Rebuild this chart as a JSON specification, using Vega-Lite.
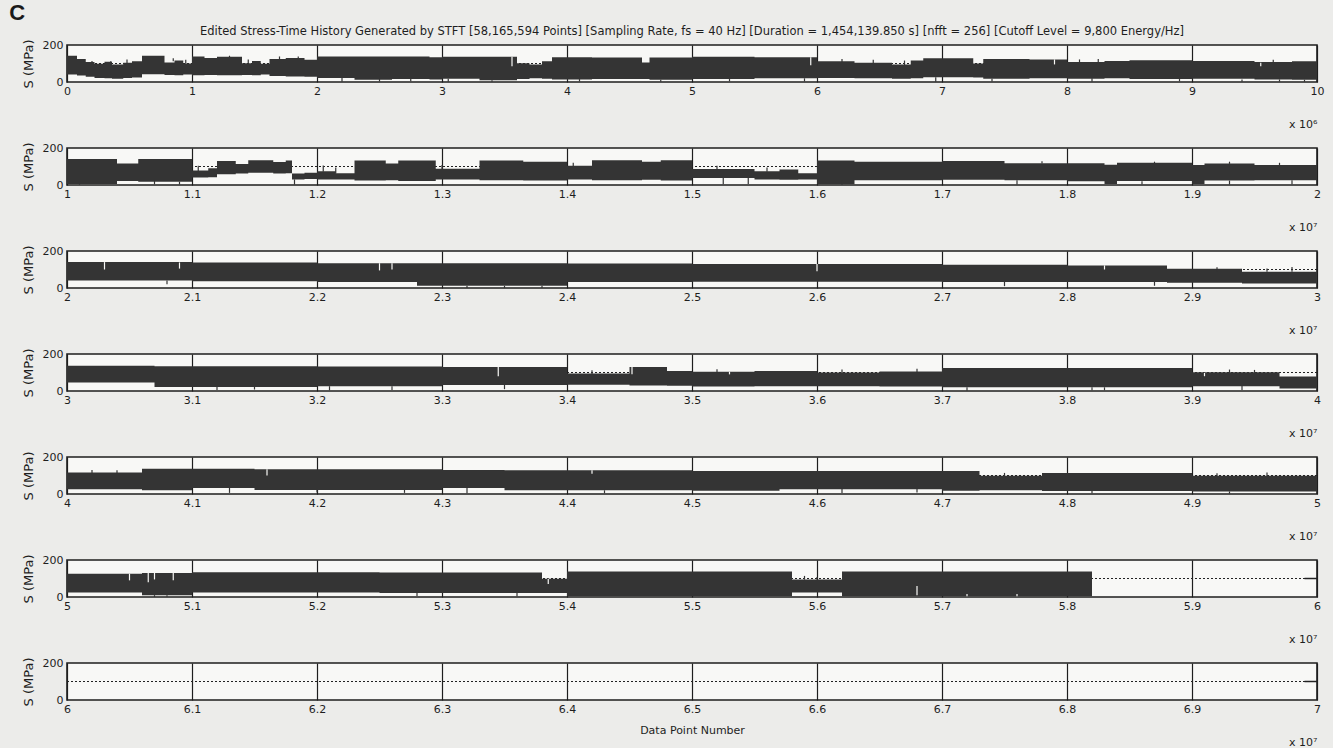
{
  "$schema": "https://vega.github.io/schema/vega-lite/v6.json",
  "background": "#ececea",
  "padding": {"left": 9, "top": 1, "right": 8, "bottom": 0},
  "title": {"text": "C", "anchor": "start", "fontSize": 22, "fontWeight": "bold", "font": "Liberation Sans", "color": "#1a1a1a", "offset": 0, "dx": -12},
  "bounds": "flush",
  "spacing": 66,
  "datasets": {
    "level": [
      {"p": 1, "x": 0, "s": 100}, {"p": 1, "x": 10000000, "s": 100},
      {"p": 2, "x": 10000000, "s": 100}, {"p": 2, "x": 20000000, "s": 100},
      {"p": 3, "x": 20000000, "s": 100}, {"p": 3, "x": 30000000, "s": 100},
      {"p": 4, "x": 30000000, "s": 100}, {"p": 4, "x": 40000000, "s": 100},
      {"p": 5, "x": 40000000, "s": 100}, {"p": 5, "x": 50000000, "s": 100},
      {"p": 6, "x": 50000000, "s": 100}, {"p": 6, "x": 60000000, "s": 100},
      {"p": 7, "x": 60000000, "s": 100}, {"p": 7, "x": 70000000, "s": 100}
    ],
    "tail": [
      {"p": 6, "x": 59900000, "s": 100}, {"p": 6, "x": 60000000, "s": 100},
      {"p": 7, "x": 69900000, "s": 100}, {"p": 7, "x": 70000000, "s": 100}
    ],
    "spk": [
      {"p": 1, "x": 2200000, "a": 2, "b": 22, "k": "d"},
      {"p": 1, "x": 2500000, "a": 3, "b": 16, "k": "d"},
      {"p": 1, "x": 2750000, "a": 4, "b": 16, "k": "d"},
      {"p": 1, "x": 3050000, "a": 2, "b": 18, "k": "d"},
      {"p": 1, "x": 3400000, "a": 2, "b": 10, "k": "d"},
      {"p": 1, "x": 4100000, "a": 3, "b": 16, "k": "d"},
      {"p": 1, "x": 4750000, "a": 2, "b": 12, "k": "d"},
      {"p": 1, "x": 5300000, "a": 4, "b": 16, "k": "d"},
      {"p": 1, "x": 5900000, "a": 3, "b": 20, "k": "d"},
      {"p": 1, "x": 6950000, "a": 2, "b": 26, "k": "d"},
      {"p": 1, "x": 7400000, "a": 3, "b": 18, "k": "d"},
      {"p": 1, "x": 8200000, "a": 2, "b": 20, "k": "d"},
      {"p": 1, "x": 8900000, "a": 4, "b": 16, "k": "d"},
      {"p": 1, "x": 9400000, "a": 2, "b": 14, "k": "d"},
      {"p": 1, "x": 9700000, "a": 2, "b": 14, "k": "d"},
      {"p": 1, "x": 9900000, "a": 1, "b": 12, "k": "d"},
      {"p": 1, "x": 200000, "a": 96, "b": 114, "k": "d"},
      {"p": 1, "x": 350000, "a": 92, "b": 112, "k": "d"},
      {"p": 1, "x": 480000, "a": 102, "b": 122, "k": "d"},
      {"p": 1, "x": 850000, "a": 112, "b": 128, "k": "d"},
      {"p": 1, "x": 950000, "a": 98, "b": 120, "k": "d"},
      {"p": 1, "x": 1300000, "a": 130, "b": 142, "k": "d"},
      {"p": 1, "x": 1450000, "a": 100, "b": 122, "k": "d"},
      {"p": 1, "x": 1700000, "a": 124, "b": 138, "k": "d"},
      {"p": 1, "x": 1850000, "a": 120, "b": 138, "k": "d"},
      {"p": 1, "x": 6200000, "a": 108, "b": 124, "k": "d"},
      {"p": 1, "x": 6450000, "a": 100, "b": 120, "k": "d"},
      {"p": 1, "x": 6700000, "a": 92, "b": 116, "k": "d"},
      {"p": 1, "x": 8100000, "a": 104, "b": 122, "k": "d"},
      {"p": 1, "x": 8250000, "a": 104, "b": 124, "k": "d"},
      {"p": 1, "x": 9650000, "a": 104, "b": 120, "k": "d"},
      {"p": 1, "x": 3560000, "a": 85, "b": 136, "k": "l"},
      {"p": 1, "x": 5950000, "a": 90, "b": 134, "k": "l"},
      {"p": 1, "x": 7900000, "a": 95, "b": 122, "k": "l"},
      {"p": 1, "x": 9550000, "a": 85, "b": 104, "k": "l"},

      {"p": 2, "x": 10100000, "a": 2, "b": 6, "k": "d"},
      {"p": 2, "x": 10700000, "a": 4, "b": 22, "k": "d"},
      {"p": 2, "x": 10900000, "a": 3, "b": 18, "k": "d"},
      {"p": 2, "x": 11820000, "a": 2, "b": 30, "k": "d"},
      {"p": 2, "x": 15250000, "a": 4, "b": 38, "k": "d"},
      {"p": 2, "x": 15450000, "a": 6, "b": 38, "k": "d"},
      {"p": 2, "x": 16200000, "a": 2, "b": 26, "k": "d"},
      {"p": 2, "x": 17600000, "a": 3, "b": 26, "k": "d"},
      {"p": 2, "x": 18600000, "a": 4, "b": 20, "k": "d"},
      {"p": 2, "x": 19300000, "a": 3, "b": 24, "k": "d"},
      {"p": 2, "x": 19800000, "a": 4, "b": 26, "k": "d"},
      {"p": 2, "x": 11050000, "a": 76, "b": 104, "k": "d"},
      {"p": 2, "x": 12050000, "a": 72, "b": 106, "k": "d"},
      {"p": 2, "x": 12150000, "a": 62, "b": 94, "k": "d"},
      {"p": 2, "x": 13000000, "a": 86, "b": 108, "k": "d"},
      {"p": 2, "x": 14050000, "a": 102, "b": 120, "k": "d"},
      {"p": 2, "x": 15200000, "a": 84, "b": 104, "k": "d"},
      {"p": 2, "x": 15600000, "a": 72, "b": 94, "k": "d"},
      {"p": 2, "x": 17800000, "a": 116, "b": 128, "k": "d"},
      {"p": 2, "x": 18700000, "a": 116, "b": 126, "k": "d"},
      {"p": 2, "x": 19300000, "a": 114, "b": 126, "k": "d"},
      {"p": 2, "x": 19700000, "a": 108, "b": 120, "k": "d"},

      {"p": 3, "x": 20800000, "a": 20, "b": 40, "k": "d"},
      {"p": 3, "x": 23200000, "a": 0, "b": 12, "k": "d"},
      {"p": 3, "x": 23500000, "a": 0, "b": 12, "k": "d"},
      {"p": 3, "x": 23800000, "a": 0, "b": 12, "k": "d"},
      {"p": 3, "x": 27500000, "a": 10, "b": 34, "k": "d"},
      {"p": 3, "x": 28700000, "a": 12, "b": 34, "k": "d"},
      {"p": 3, "x": 29200000, "a": 88, "b": 112, "k": "d"},
      {"p": 3, "x": 29600000, "a": 88, "b": 106, "k": "d"},
      {"p": 3, "x": 29800000, "a": 88, "b": 114, "k": "d"},
      {"p": 3, "x": 20300000, "a": 100, "b": 140, "k": "l"},
      {"p": 3, "x": 20900000, "a": 105, "b": 138, "k": "l"},
      {"p": 3, "x": 22500000, "a": 95, "b": 134, "k": "l"},
      {"p": 3, "x": 22600000, "a": 100, "b": 134, "k": "l"},
      {"p": 3, "x": 26000000, "a": 90, "b": 130, "k": "l"},
      {"p": 3, "x": 28300000, "a": 100, "b": 122, "k": "l"},

      {"p": 4, "x": 31200000, "a": 6, "b": 22, "k": "d"},
      {"p": 4, "x": 31500000, "a": 8, "b": 22, "k": "d"},
      {"p": 4, "x": 32100000, "a": 4, "b": 26, "k": "d"},
      {"p": 4, "x": 32600000, "a": 6, "b": 26, "k": "d"},
      {"p": 4, "x": 33500000, "a": 10, "b": 34, "k": "d"},
      {"p": 4, "x": 37200000, "a": 2, "b": 20, "k": "d"},
      {"p": 4, "x": 38200000, "a": 4, "b": 20, "k": "d"},
      {"p": 4, "x": 38300000, "a": 4, "b": 20, "k": "d"},
      {"p": 4, "x": 39400000, "a": 6, "b": 28, "k": "d"},
      {"p": 4, "x": 34200000, "a": 92, "b": 112, "k": "d"},
      {"p": 4, "x": 35200000, "a": 100, "b": 118, "k": "d"},
      {"p": 4, "x": 36200000, "a": 96, "b": 116, "k": "d"},
      {"p": 4, "x": 36800000, "a": 102, "b": 120, "k": "d"},
      {"p": 4, "x": 39300000, "a": 98, "b": 116, "k": "d"},
      {"p": 4, "x": 39500000, "a": 98, "b": 114, "k": "d"},
      {"p": 4, "x": 33450000, "a": 80, "b": 130, "k": "l"},
      {"p": 4, "x": 34520000, "a": 90, "b": 130, "k": "l"},
      {"p": 4, "x": 35300000, "a": 90, "b": 104, "k": "l"},
      {"p": 4, "x": 39100000, "a": 80, "b": 98, "k": "l"},

      {"p": 5, "x": 41300000, "a": 6, "b": 34, "k": "d"},
      {"p": 5, "x": 42000000, "a": 8, "b": 22, "k": "d"},
      {"p": 5, "x": 42700000, "a": 6, "b": 22, "k": "d"},
      {"p": 5, "x": 43200000, "a": 4, "b": 34, "k": "d"},
      {"p": 5, "x": 44300000, "a": 4, "b": 20, "k": "d"},
      {"p": 5, "x": 46200000, "a": 6, "b": 28, "k": "d"},
      {"p": 5, "x": 46800000, "a": 8, "b": 28, "k": "d"},
      {"p": 5, "x": 48200000, "a": 4, "b": 16, "k": "d"},
      {"p": 5, "x": 49300000, "a": 2, "b": 14, "k": "d"},
      {"p": 5, "x": 40200000, "a": 112, "b": 130, "k": "d"},
      {"p": 5, "x": 40400000, "a": 112, "b": 128, "k": "d"},
      {"p": 5, "x": 47500000, "a": 96, "b": 114, "k": "d"},
      {"p": 5, "x": 49200000, "a": 96, "b": 112, "k": "d"},
      {"p": 5, "x": 49600000, "a": 96, "b": 116, "k": "d"},
      {"p": 5, "x": 41600000, "a": 100, "b": 134, "k": "l"},
      {"p": 5, "x": 44200000, "a": 110, "b": 128, "k": "l"},

      {"p": 6, "x": 50700000, "a": 0, "b": 10, "k": "d"},
      {"p": 6, "x": 50800000, "a": 2, "b": 10, "k": "d"},
      {"p": 6, "x": 52800000, "a": 6, "b": 24, "k": "d"},
      {"p": 6, "x": 53600000, "a": 4, "b": 22, "k": "d"},
      {"p": 6, "x": 55900000, "a": 94, "b": 114, "k": "d"},
      {"p": 6, "x": 56000000, "a": 94, "b": 108, "k": "d"},
      {"p": 6, "x": 50500000, "a": 90, "b": 126, "k": "l"},
      {"p": 6, "x": 50650000, "a": 80, "b": 130, "k": "l"},
      {"p": 6, "x": 50700000, "a": 95, "b": 130, "k": "l"},
      {"p": 6, "x": 50850000, "a": 90, "b": 130, "k": "l"},
      {"p": 6, "x": 53850000, "a": 70, "b": 98, "k": "l"},
      {"p": 6, "x": 56800000, "a": 10, "b": 60, "k": "l"},
      {"p": 6, "x": 57200000, "a": 4, "b": 16, "k": "l"},
      {"p": 6, "x": 57600000, "a": 4, "b": 16, "k": "l"}
    ],
    "band": [
      {"p": 1, "x": 0, "hi": 142, "lo": 40},
      {"p": 1, "x": 80000, "hi": 124, "lo": 35},
      {"p": 1, "x": 150000, "hi": 108, "lo": 28},
      {"p": 1, "x": 220000, "hi": 98, "lo": 22},
      {"p": 1, "x": 300000, "hi": 110, "lo": 20},
      {"p": 1, "x": 360000, "hi": 94, "lo": 18},
      {"p": 1, "x": 450000, "hi": 104, "lo": 22},
      {"p": 1, "x": 520000, "hi": 112, "lo": 24},
      {"p": 1, "x": 600000, "hi": 142, "lo": 42},
      {"p": 1, "x": 780000, "hi": 106, "lo": 38},
      {"p": 1, "x": 860000, "hi": 116, "lo": 36},
      {"p": 1, "x": 930000, "hi": 100, "lo": 40},
      {"p": 1, "x": 1000000, "hi": 138, "lo": 36},
      {"p": 1, "x": 1100000, "hi": 130, "lo": 38},
      {"p": 1, "x": 1200000, "hi": 136, "lo": 36},
      {"p": 1, "x": 1400000, "hi": 102, "lo": 38},
      {"p": 1, "x": 1480000, "hi": 114, "lo": 36},
      {"p": 1, "x": 1550000, "hi": 98, "lo": 40},
      {"p": 1, "x": 1620000, "hi": 124, "lo": 32},
      {"p": 1, "x": 1750000, "hi": 130, "lo": 30},
      {"p": 1, "x": 1900000, "hi": 120, "lo": 28},
      {"p": 1, "x": 2000000, "hi": 138, "lo": 22},
      {"p": 1, "x": 2300000, "hi": 138, "lo": 12},
      {"p": 1, "x": 2600000, "hi": 138, "lo": 16},
      {"p": 1, "x": 2900000, "hi": 134, "lo": 14},
      {"p": 1, "x": 3000000, "hi": 136, "lo": 18},
      {"p": 1, "x": 3300000, "hi": 136, "lo": 10},
      {"p": 1, "x": 3600000, "hi": 102, "lo": 16},
      {"p": 1, "x": 3700000, "hi": 94, "lo": 20},
      {"p": 1, "x": 3800000, "hi": 112, "lo": 18},
      {"p": 1, "x": 3880000, "hi": 134, "lo": 14},
      {"p": 1, "x": 4200000, "hi": 132, "lo": 16},
      {"p": 1, "x": 4600000, "hi": 106, "lo": 16},
      {"p": 1, "x": 4660000, "hi": 132, "lo": 12},
      {"p": 1, "x": 5000000, "hi": 136, "lo": 16},
      {"p": 1, "x": 5500000, "hi": 134, "lo": 20},
      {"p": 1, "x": 6000000, "hi": 112, "lo": 22},
      {"p": 1, "x": 6300000, "hi": 104, "lo": 20},
      {"p": 1, "x": 6600000, "hi": 94, "lo": 18},
      {"p": 1, "x": 6750000, "hi": 116, "lo": 20},
      {"p": 1, "x": 6850000, "hi": 128, "lo": 26},
      {"p": 1, "x": 7250000, "hi": 100, "lo": 24},
      {"p": 1, "x": 7330000, "hi": 124, "lo": 18},
      {"p": 1, "x": 7700000, "hi": 122, "lo": 20},
      {"p": 1, "x": 8000000, "hi": 108, "lo": 18},
      {"p": 1, "x": 8300000, "hi": 114, "lo": 20},
      {"p": 1, "x": 8500000, "hi": 118, "lo": 16},
      {"p": 1, "x": 9000000, "hi": 114, "lo": 18},
      {"p": 1, "x": 9500000, "hi": 108, "lo": 14},
      {"p": 1, "x": 9800000, "hi": 112, "lo": 12},
      {"p": 1, "x": 10000000, "hi": 112, "lo": 12},

      {"p": 2, "x": 10000000, "hi": 141, "lo": 6},
      {"p": 2, "x": 10400000, "hi": 116, "lo": 22},
      {"p": 2, "x": 10570000, "hi": 140, "lo": 18},
      {"p": 2, "x": 11000000, "hi": 78, "lo": 40},
      {"p": 2, "x": 11130000, "hi": 90, "lo": 42},
      {"p": 2, "x": 11200000, "hi": 130, "lo": 58},
      {"p": 2, "x": 11350000, "hi": 114, "lo": 62},
      {"p": 2, "x": 11450000, "hi": 134, "lo": 66},
      {"p": 2, "x": 11650000, "hi": 124, "lo": 62},
      {"p": 2, "x": 11750000, "hi": 132, "lo": 64},
      {"p": 2, "x": 11800000, "hi": 62, "lo": 30},
      {"p": 2, "x": 11900000, "hi": 66, "lo": 32},
      {"p": 2, "x": 12000000, "hi": 74, "lo": 30},
      {"p": 2, "x": 12150000, "hi": 64, "lo": 30},
      {"p": 2, "x": 12300000, "hi": 132, "lo": 24},
      {"p": 2, "x": 12550000, "hi": 116, "lo": 26},
      {"p": 2, "x": 12650000, "hi": 132, "lo": 22},
      {"p": 2, "x": 12950000, "hi": 88, "lo": 30},
      {"p": 2, "x": 13300000, "hi": 132, "lo": 26},
      {"p": 2, "x": 13650000, "hi": 126, "lo": 24},
      {"p": 2, "x": 14000000, "hi": 104, "lo": 30},
      {"p": 2, "x": 14200000, "hi": 134, "lo": 26},
      {"p": 2, "x": 14600000, "hi": 126, "lo": 28},
      {"p": 2, "x": 14750000, "hi": 134, "lo": 24},
      {"p": 2, "x": 15000000, "hi": 86, "lo": 38},
      {"p": 2, "x": 15500000, "hi": 74, "lo": 30},
      {"p": 2, "x": 15700000, "hi": 84, "lo": 28},
      {"p": 2, "x": 15850000, "hi": 64, "lo": 30},
      {"p": 2, "x": 16000000, "hi": 132, "lo": 4},
      {"p": 2, "x": 16300000, "hi": 126, "lo": 26},
      {"p": 2, "x": 17000000, "hi": 130, "lo": 28},
      {"p": 2, "x": 17500000, "hi": 118, "lo": 26},
      {"p": 2, "x": 18000000, "hi": 118, "lo": 20},
      {"p": 2, "x": 18300000, "hi": 110, "lo": 6},
      {"p": 2, "x": 18400000, "hi": 120, "lo": 22},
      {"p": 2, "x": 19000000, "hi": 108, "lo": 6},
      {"p": 2, "x": 19100000, "hi": 116, "lo": 24},
      {"p": 2, "x": 19500000, "hi": 108, "lo": 26},
      {"p": 2, "x": 20000000, "hi": 108, "lo": 26},

      {"p": 3, "x": 20000000, "hi": 140, "lo": 40},
      {"p": 3, "x": 21000000, "hi": 138, "lo": 36},
      {"p": 3, "x": 22000000, "hi": 134, "lo": 32},
      {"p": 3, "x": 22800000, "hi": 134, "lo": 12},
      {"p": 3, "x": 24000000, "hi": 132, "lo": 32},
      {"p": 3, "x": 25000000, "hi": 130, "lo": 34},
      {"p": 3, "x": 26000000, "hi": 130, "lo": 34},
      {"p": 3, "x": 27000000, "hi": 126, "lo": 32},
      {"p": 3, "x": 28000000, "hi": 122, "lo": 32},
      {"p": 3, "x": 28800000, "hi": 104, "lo": 28},
      {"p": 3, "x": 29400000, "hi": 88, "lo": 24},
      {"p": 3, "x": 30000000, "hi": 88, "lo": 24},

      {"p": 4, "x": 30000000, "hi": 136, "lo": 46},
      {"p": 4, "x": 30700000, "hi": 134, "lo": 22},
      {"p": 4, "x": 32000000, "hi": 132, "lo": 26},
      {"p": 4, "x": 33000000, "hi": 130, "lo": 32},
      {"p": 4, "x": 34000000, "hi": 94, "lo": 34},
      {"p": 4, "x": 34500000, "hi": 130, "lo": 30},
      {"p": 4, "x": 34800000, "hi": 108, "lo": 28},
      {"p": 4, "x": 35000000, "hi": 104, "lo": 24},
      {"p": 4, "x": 35500000, "hi": 108, "lo": 26},
      {"p": 4, "x": 36000000, "hi": 100, "lo": 26},
      {"p": 4, "x": 36500000, "hi": 106, "lo": 24},
      {"p": 4, "x": 37000000, "hi": 124, "lo": 20},
      {"p": 4, "x": 39000000, "hi": 102, "lo": 26},
      {"p": 4, "x": 39700000, "hi": 78, "lo": 14},
      {"p": 4, "x": 40000000, "hi": 78, "lo": 14},

      {"p": 5, "x": 40000000, "hi": 116, "lo": 26},
      {"p": 5, "x": 40600000, "hi": 136, "lo": 20},
      {"p": 5, "x": 41000000, "hi": 136, "lo": 32},
      {"p": 5, "x": 41500000, "hi": 134, "lo": 22},
      {"p": 5, "x": 43000000, "hi": 130, "lo": 32},
      {"p": 5, "x": 43500000, "hi": 128, "lo": 20},
      {"p": 5, "x": 45000000, "hi": 124, "lo": 18},
      {"p": 5, "x": 45700000, "hi": 124, "lo": 26},
      {"p": 5, "x": 47000000, "hi": 124, "lo": 18},
      {"p": 5, "x": 47300000, "hi": 98, "lo": 20},
      {"p": 5, "x": 47800000, "hi": 114, "lo": 16},
      {"p": 5, "x": 49000000, "hi": 98, "lo": 14},
      {"p": 5, "x": 50000000, "hi": 98, "lo": 14},

      {"p": 6, "x": 50000000, "hi": 126, "lo": 24},
      {"p": 6, "x": 50600000, "hi": 130, "lo": 10},
      {"p": 6, "x": 51000000, "hi": 134, "lo": 24},
      {"p": 6, "x": 52500000, "hi": 132, "lo": 22},
      {"p": 6, "x": 53800000, "hi": 98, "lo": 22},
      {"p": 6, "x": 54000000, "hi": 138, "lo": 4},
      {"p": 6, "x": 55800000, "hi": 94, "lo": 24},
      {"p": 6, "x": 56200000, "hi": 138, "lo": 4},
      {"p": 6, "x": 58200000, "hi": 138, "lo": 4}
    ]
  },
  "config": {
    "font": "DejaVu Sans",
    "view": {"stroke": "#1e1e1e", "strokeWidth": 1.6, "fill": "#f8f8f6"},
    "axis": {"labelFont": "DejaVu Sans", "labelFontSize": 11, "labelColor": "#1e1e1e", "titleFont": "DejaVu Sans", "titleFontSize": 11, "titleFontWeight": "normal", "titleColor": "#1e1e1e"},
    "axisX": {"grid": true, "gridColor": "#1e1e1e", "gridWidth": 1.2, "gridOpacity": 1, "ticks": false, "domain": false, "labelFlush": false, "labelPadding": 3, "tickCount": 10, "titleAnchor": "end", "titleY": 36, "titleBaseline": "top"},
    "axisY": {"grid": false, "ticks": false, "domain": false, "values": [0, 100, 200], "labelPadding": 4, "titlePadding": 7, "titleFontSize": 13}
  },
  "vconcat": [
    {
      "width": 1250, "height": 37,
      "title": {"text": "Edited Stress-Time History Generated by STFT [58,165,594 Points] [Sampling Rate, fs = 40 Hz] [Duration = 1,454,139.850 s] [nfft = 256] [Cutoff Level = 9,800 Energy/Hz]", "fontSize": 11.5, "fontWeight": "normal", "frame": "group", "anchor": "middle", "offset": 2, "color": "#1e1e1e"},
      "layer": [
        {"data": {"name": "level"}, "transform": [{"filter": "datum.p == 1"}], "mark": {"type": "line", "color": "#222", "strokeWidth": 1, "strokeDash": [2, 2]},
         "encoding": {"x": {"field": "x", "type": "quantitative", "scale": {"domain": [0, 10000000], "nice": false, "zero": false}, "axis": {"labelExpr": "format(datum.value / 1000000, '.2~f')", "title": "x 10⁶"}},
                      "y": {"field": "s", "type": "quantitative", "scale": {"domain": [0, 200]}, "axis": {"title": "S (MPa)"}}}},
        {"data": {"name": "band"}, "transform": [{"filter": "datum.p == 1"}], "mark": {"type": "area", "interpolate": "step-after", "color": "#343434"},
         "encoding": {"x": {"field": "x", "type": "quantitative"}, "y": {"field": "hi", "type": "quantitative"}, "y2": {"field": "lo"}}},
        {"data": {"name": "spk"}, "transform": [{"filter": "datum.p == 1"}], "mark": {"type": "rule", "strokeWidth": 1.2},
         "encoding": {"x": {"field": "x", "type": "quantitative"}, "y": {"field": "a", "type": "quantitative"}, "y2": {"field": "b"}, "color": {"field": "k", "type": "nominal", "scale": {"domain": ["d", "l"], "range": ["#343434", "#f8f8f6"]}, "legend": null}}}
      ]
    },
    {
      "width": 1250, "height": 37,
      "layer": [
        {"data": {"name": "level"}, "transform": [{"filter": "datum.p == 2"}], "mark": {"type": "line", "color": "#222", "strokeWidth": 1, "strokeDash": [2, 2]},
         "encoding": {"x": {"field": "x", "type": "quantitative", "scale": {"domain": [10000000, 20000000], "nice": false, "zero": false}, "axis": {"labelExpr": "format(datum.value / 10000000, '.2~f')", "title": "x 10⁷"}},
                      "y": {"field": "s", "type": "quantitative", "scale": {"domain": [0, 200]}, "axis": {"title": "S (MPa)"}}}},
        {"data": {"name": "band"}, "transform": [{"filter": "datum.p == 2"}], "mark": {"type": "area", "interpolate": "step-after", "color": "#343434"},
         "encoding": {"x": {"field": "x", "type": "quantitative"}, "y": {"field": "hi", "type": "quantitative"}, "y2": {"field": "lo"}}},
        {"data": {"name": "spk"}, "transform": [{"filter": "datum.p == 2"}], "mark": {"type": "rule", "strokeWidth": 1.2},
         "encoding": {"x": {"field": "x", "type": "quantitative"}, "y": {"field": "a", "type": "quantitative"}, "y2": {"field": "b"}, "color": {"field": "k", "type": "nominal", "scale": {"domain": ["d", "l"], "range": ["#343434", "#f8f8f6"]}, "legend": null}}}
      ]
    },
    {
      "width": 1250, "height": 37,
      "layer": [
        {"data": {"name": "level"}, "transform": [{"filter": "datum.p == 3"}], "mark": {"type": "line", "color": "#222", "strokeWidth": 1, "strokeDash": [2, 2]},
         "encoding": {"x": {"field": "x", "type": "quantitative", "scale": {"domain": [20000000, 30000000], "nice": false, "zero": false}, "axis": {"labelExpr": "format(datum.value / 10000000, '.2~f')", "title": "x 10⁷"}},
                      "y": {"field": "s", "type": "quantitative", "scale": {"domain": [0, 200]}, "axis": {"title": "S (MPa)"}}}},
        {"data": {"name": "band"}, "transform": [{"filter": "datum.p == 3"}], "mark": {"type": "area", "interpolate": "step-after", "color": "#343434"},
         "encoding": {"x": {"field": "x", "type": "quantitative"}, "y": {"field": "hi", "type": "quantitative"}, "y2": {"field": "lo"}}},
        {"data": {"name": "spk"}, "transform": [{"filter": "datum.p == 3"}], "mark": {"type": "rule", "strokeWidth": 1.2},
         "encoding": {"x": {"field": "x", "type": "quantitative"}, "y": {"field": "a", "type": "quantitative"}, "y2": {"field": "b"}, "color": {"field": "k", "type": "nominal", "scale": {"domain": ["d", "l"], "range": ["#343434", "#f8f8f6"]}, "legend": null}}}
      ]
    },
    {
      "width": 1250, "height": 37,
      "layer": [
        {"data": {"name": "level"}, "transform": [{"filter": "datum.p == 4"}], "mark": {"type": "line", "color": "#222", "strokeWidth": 1, "strokeDash": [2, 2]},
         "encoding": {"x": {"field": "x", "type": "quantitative", "scale": {"domain": [30000000, 40000000], "nice": false, "zero": false}, "axis": {"labelExpr": "format(datum.value / 10000000, '.2~f')", "title": "x 10⁷"}},
                      "y": {"field": "s", "type": "quantitative", "scale": {"domain": [0, 200]}, "axis": {"title": "S (MPa)"}}}},
        {"data": {"name": "band"}, "transform": [{"filter": "datum.p == 4"}], "mark": {"type": "area", "interpolate": "step-after", "color": "#343434"},
         "encoding": {"x": {"field": "x", "type": "quantitative"}, "y": {"field": "hi", "type": "quantitative"}, "y2": {"field": "lo"}}},
        {"data": {"name": "spk"}, "transform": [{"filter": "datum.p == 4"}], "mark": {"type": "rule", "strokeWidth": 1.2},
         "encoding": {"x": {"field": "x", "type": "quantitative"}, "y": {"field": "a", "type": "quantitative"}, "y2": {"field": "b"}, "color": {"field": "k", "type": "nominal", "scale": {"domain": ["d", "l"], "range": ["#343434", "#f8f8f6"]}, "legend": null}}}
      ]
    },
    {
      "width": 1250, "height": 37,
      "layer": [
        {"data": {"name": "level"}, "transform": [{"filter": "datum.p == 5"}], "mark": {"type": "line", "color": "#222", "strokeWidth": 1, "strokeDash": [2, 2]},
         "encoding": {"x": {"field": "x", "type": "quantitative", "scale": {"domain": [40000000, 50000000], "nice": false, "zero": false}, "axis": {"labelExpr": "format(datum.value / 10000000, '.2~f')", "title": "x 10⁷"}},
                      "y": {"field": "s", "type": "quantitative", "scale": {"domain": [0, 200]}, "axis": {"title": "S (MPa)"}}}},
        {"data": {"name": "band"}, "transform": [{"filter": "datum.p == 5"}], "mark": {"type": "area", "interpolate": "step-after", "color": "#343434"},
         "encoding": {"x": {"field": "x", "type": "quantitative"}, "y": {"field": "hi", "type": "quantitative"}, "y2": {"field": "lo"}}},
        {"data": {"name": "spk"}, "transform": [{"filter": "datum.p == 5"}], "mark": {"type": "rule", "strokeWidth": 1.2},
         "encoding": {"x": {"field": "x", "type": "quantitative"}, "y": {"field": "a", "type": "quantitative"}, "y2": {"field": "b"}, "color": {"field": "k", "type": "nominal", "scale": {"domain": ["d", "l"], "range": ["#343434", "#f8f8f6"]}, "legend": null}}}
      ]
    },
    {
      "width": 1250, "height": 37,
      "layer": [
        {"data": {"name": "level"}, "transform": [{"filter": "datum.p == 6"}], "mark": {"type": "line", "color": "#222", "strokeWidth": 1, "strokeDash": [2, 2]},
         "encoding": {"x": {"field": "x", "type": "quantitative", "scale": {"domain": [50000000, 60000000], "nice": false, "zero": false}, "axis": {"labelExpr": "format(datum.value / 10000000, '.2~f')", "title": "x 10⁷"}},
                      "y": {"field": "s", "type": "quantitative", "scale": {"domain": [0, 200]}, "axis": {"title": "S (MPa)"}}}},
        {"data": {"name": "band"}, "transform": [{"filter": "datum.p == 6"}], "mark": {"type": "area", "interpolate": "step-after", "color": "#343434"},
         "encoding": {"x": {"field": "x", "type": "quantitative"}, "y": {"field": "hi", "type": "quantitative"}, "y2": {"field": "lo"}}},
        {"data": {"name": "spk"}, "transform": [{"filter": "datum.p == 6"}], "mark": {"type": "rule", "strokeWidth": 1.2},
         "encoding": {"x": {"field": "x", "type": "quantitative"}, "y": {"field": "a", "type": "quantitative"}, "y2": {"field": "b"}, "color": {"field": "k", "type": "nominal", "scale": {"domain": ["d", "l"], "range": ["#343434", "#f8f8f6"]}, "legend": null}}},
        {"data": {"name": "tail"}, "transform": [{"filter": "datum.p == 6"}], "mark": {"type": "line", "color": "#222", "strokeWidth": 1.5},
         "encoding": {"x": {"field": "x", "type": "quantitative"}, "y": {"field": "s", "type": "quantitative"}}}
      ]
    },
    {
      "width": 1250, "height": 37,
      "resolve": {"axis": {"x": "independent"}},
      "layer": [
        {"data": {"name": "level"}, "transform": [{"filter": "datum.p == 7"}], "mark": {"type": "line", "color": "#222", "strokeWidth": 1, "strokeDash": [2, 2]},
         "encoding": {"x": {"field": "x", "type": "quantitative", "scale": {"domain": [60000000, 70000000], "nice": false, "zero": false}, "axis": {"orient": "bottom", "labelExpr": "format(datum.value / 10000000, '.2~f')", "title": "x 10⁷", "titleY": 36}},
                      "y": {"field": "s", "type": "quantitative", "scale": {"domain": [0, 200]}, "axis": {"title": "S (MPa)"}}}},
        {"data": {"name": "tail"}, "transform": [{"filter": "datum.p == 7"}], "mark": {"type": "line", "color": "#222", "strokeWidth": 1.5},
         "encoding": {"x": {"field": "x", "type": "quantitative", "axis": {"orient": "bottom", "title": "Data Point Number", "titleAnchor": "middle", "titleY": 24, "labels": false, "grid": false, "ticks": false, "domain": false}}, "y": {"field": "s", "type": "quantitative"}}}
      ]
    }
  ]
}
